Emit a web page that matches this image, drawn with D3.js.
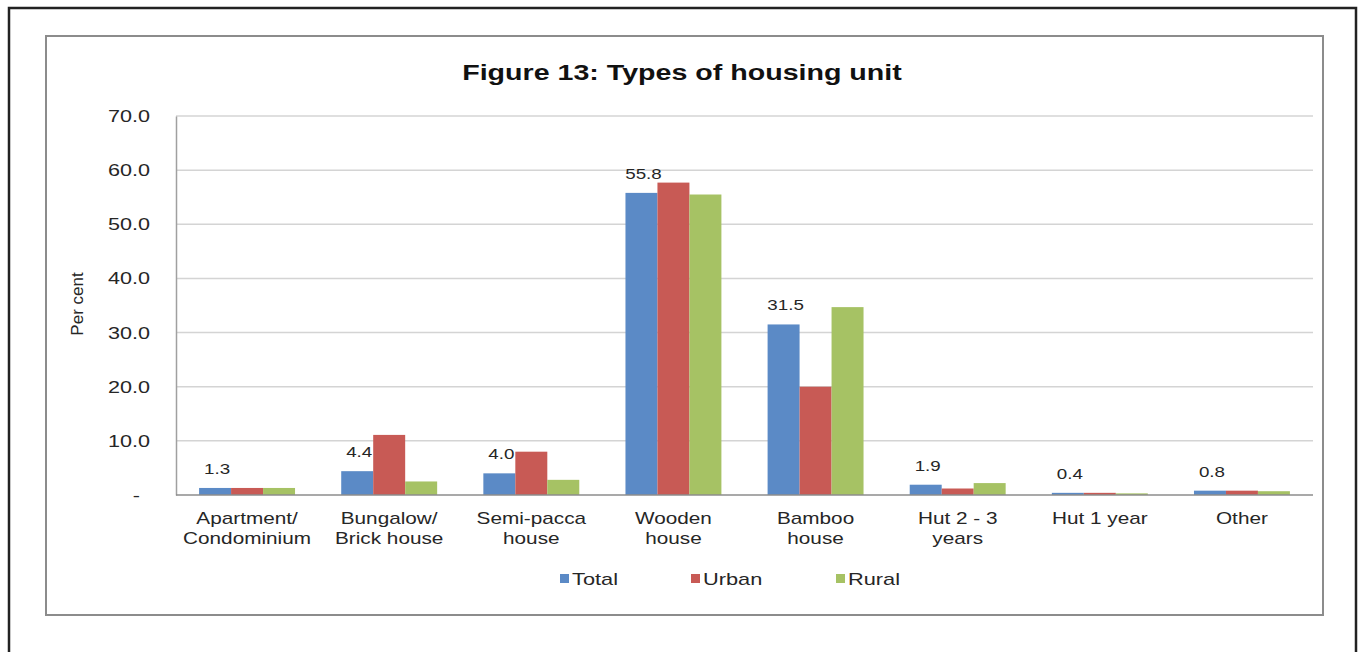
<!DOCTYPE html>
<html><head><meta charset="utf-8">
<script src="https://cdn.jsdelivr.net/npm/d3@7"></script>
<style>body{margin:0;background:#fff;} svg{display:block;}</style>
</head><body>
<svg id="c" width="1362" height="652"></svg>
<script>
const categories = [["Apartment/","Condominium"],["Bungalow/","Brick house"],["Semi-pacca","house"],["Wooden","house"],["Bamboo","house"],["Hut 2 - 3","years"],["Hut 1 year"],["Other"]];
const seriesNames = ["Total","Urban","Rural"];
const totalValues = [1.3, 4.4, 4.0, 55.8, 31.5, 1.9, 0.4, 0.8];
const urbanValues = [1.3, 11.1, 8.0, 57.7, 20.0, 1.2, 0.4, 0.8];
const ruralValues = [1.3, 2.5, 2.8, 55.5, 34.7, 2.2, 0.3, 0.7];
const yTicks = [0, 10, 20, 30, 40, 50, 60, 70];
const colors = ["#5B8AC6", "#C85A55", "#A6C264"];

(function(){
const svg = d3.select("#c");
const font = "'Liberation Sans', Arial, sans-serif";
const ink = "#262626";
function stretch(sel, k){
  sel.each(function(){
    const w = this.getComputedTextLength();
    if (w > 0) d3.select(this).attr("textLength", w*k).attr("lengthAdjust","spacingAndGlyphs");
  });
}

// frames
svg.append("path").attr("d","M9,652 V8 H1356 V652").attr("fill","none").attr("stroke","#222").attr("stroke-width",2.5);
svg.append("rect").attr("x",46).attr("y",36).attr("width",1277).attr("height",579).attr("fill","none").attr("stroke","#8c8c8c").attr("stroke-width",2);

const pl = 176, pr = 1313, pt = 116, pb = 495;
const x0 = d3.scaleBand().domain(d3.range(categories.length)).range([pl, pr]).paddingInner(0.325).paddingOuter(0.1625);
const x1 = d3.scaleBand().domain(d3.range(3)).range([0, x0.bandwidth()]);
const y = d3.scaleLinear().domain([0, 70]).range([pb, pt]);

// gridlines
svg.append("g").selectAll("line").data(yTicks.filter(t=>t>0)).join("line")
  .attr("x1", pl).attr("x2", pr).attr("y1", d=>y(d)).attr("y2", d=>y(d))
  .attr("stroke","#d4d4d4").attr("stroke-width",1.5);

// y axis
const yAxis = d3.axisLeft(y).tickValues(yTicks).tickSize(0).tickPadding(26)
  .tickFormat(d => d === 0 ? "-" : d.toFixed(1));
const ga = svg.append("g").attr("transform",`translate(${pl},0)`).call(yAxis);
ga.select(".domain").attr("stroke","#a0a0a0").attr("stroke-width",1.5);
ga.selectAll("text").attr("font-family",font).attr("font-size",17).attr("fill",ink);
ga.selectAll(".tick").filter(d=>d===0).select("text").attr("dx",-10);
stretch(ga.selectAll("text"), 1.27);

// bars
const series = [totalValues, urbanValues, ruralValues];
const g = svg.append("g");
series.forEach((vals, si) => {
  g.selectAll(null).data(vals).join("rect")
    .attr("x", (d,i) => x0(i) + x1(si))
    .attr("width", x1.bandwidth())
    .attr("y", d => y(d))
    .attr("height", d => y(0) - y(d))
    .attr("fill", colors[si]);
});

// baseline
svg.append("line").attr("x1",pl).attr("x2",pr).attr("y1",y(0)).attr("y2",y(0)).attr("stroke","#8c8c8c").attr("stroke-width",1.5);

// data labels (Total)
const dl = svg.append("g").selectAll("text").data(totalValues).join("text")
  .attr("x", (d,i) => x0(i) + x1(0) + x1.bandwidth()/2 + 2)
  .attr("y", d => y(d) - 14)
  .attr("text-anchor","middle").attr("font-family",font).attr("font-size",15).attr("fill",ink)
  .text(d => d.toFixed(1));
stretch(dl, 1.25);

// x labels
const lines = [];
categories.forEach((c,i) => c.forEach((t,j) => lines.push({i, j, t})));
const xl = svg.append("g").selectAll("text").data(lines).join("text")
  .attr("x", d => x0(d.i) + x0.bandwidth()/2)
  .attr("y", d => 524 + d.j*20)
  .attr("text-anchor","middle").attr("font-family",font).attr("font-size",17).attr("fill",ink)
  .text(d=>d.t);
stretch(xl, 1.22);

// y title
svg.append("text").attr("transform","translate(83,304) rotate(-90)")
  .attr("text-anchor","middle").attr("font-family",font).attr("font-size",17).attr("fill",ink).text("Per cent");

// title
const tt = svg.append("text").attr("x",682).attr("y",80).attr("text-anchor","middle")
  .attr("font-family",font).attr("font-size",22).attr("font-weight","bold").attr("fill","#111")
  .text("Figure 13: Types of housing unit");
stretch(tt, 1.3);

// legend
const legendX = [560, 691, 836];
const lg = svg.append("g").selectAll("g").data(seriesNames).join("g")
  .attr("transform",(d,i)=>`translate(${legendX[i]},574)`);
lg.append("rect").attr("width",9).attr("height",9).attr("fill",(d,i)=>colors[i]);
const lt = lg.append("text").attr("x",12).attr("y",11).attr("font-family",font).attr("font-size",17).attr("fill",ink)
  .text(d=>d);
stretch(lt, 1.28);
})();
</script>
</body></html>
